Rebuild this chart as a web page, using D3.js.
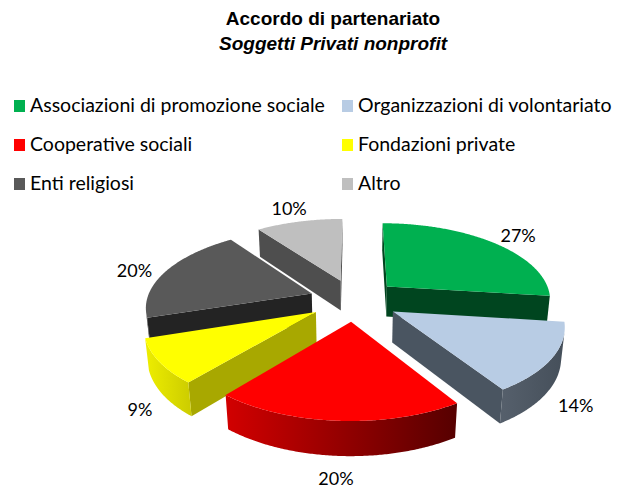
<!DOCTYPE html>
<html>
<head>
<meta charset="utf-8">
<script src="https://cdn.jsdelivr.net/npm/d3@7"></script>
<style>
  body { margin: 0; background: #fff; }
  svg { display: block; }
</style>
</head>
<body>
<svg id="chart" width="617" height="488"></svg>
<script>
'use strict'

const categories = [
  'Associazioni di promozione sociale',
  'Organizzazioni di volontariato',
  'Cooperative sociali',
  'Fondazioni private',
  'Enti religiosi',
  'Altro'
]
const values = [27, 14, 20, 9, 20, 10]
const labels = ['27%', '14%', '20%', '9%', '20%', '10%']

// colours: top face, radial faces, outer wall (left -> right)
const topColors = ['#00b050', '#b8cce4', '#ff0000', '#ffff00', '#595959', '#bfbfbf']
const faceColors = ['#00451f', '#4a5561', '#7a0000', '#a8a800', '#232323', '#4e4e4e']
const wallColors = [
  ['#00451f', '#00451f'],
  ['#56606c', '#454f5a'],
  ['#d20000', '#560000'],
  ['#eeee00', '#cccc00'],
  ['#2c2c2c', '#232323'],
  ['#4e4e4e', '#4e4e4e']
]

const cx = 354
const cy = 300
const R = 165
const depthH = 35
const explode = 45
const tilt = 27.7 * Math.PI / 180
const dist = 960
const sinA = Math.sin(tilt)
const cosA = Math.cos(tilt)
const cam = [0, -dist * cosA, dist * sinA]

const svg = d3.select('#chart')
const defs = svg.append('defs')

// title
const title = svg.append('text')
  .attr('x', 333).attr('y', 25)
  .attr('text-anchor', 'middle')
  .style('font-family', '"Liberation Sans", Arial, sans-serif')
  .style('font-weight', 'bold')
  .style('font-size', '19px')
title.append('tspan').text('Accordo di partenariato')
title.append('tspan').attr('x', 333).attr('y', 50)
  .style('font-style', 'italic')
  .text('Soggetti Privati nonprofit')

// legend
const legendFont = 'Lato, "Open Sans", sans-serif'
const legend = svg.append('g')
const legendItems = legend.selectAll('g')
  .data(categories)
  .join('g')
  .attr('transform', (d, i) => `translate(${i % 2 ? 342 : 14}, ${100 + Math.floor(i / 2) * 39})`)
legendItems.append('rect')
  .attr('width', 11).attr('height', 12)
  .attr('fill', (d, i) => topColors[i])
legendItems.append('text')
  .attr('x', 16)
  .attr('y', 12)
  .style('font-family', legendFont)
  .style('font-size', '19.5px')
  .attr('fill', '#000')
  .text(d => d)

// 3d projection of pie-plane coords (u right, v back, h up)
const proj = (u, v, h) => {
  const depth = dist + v * cosA - h * sinA
  const s = dist / depth
  return [cx + u * s, cy + (-v * sinA - h * cosA) * s]
}

const facing = (n, p) => {
  return n[0] * (cam[0] - p[0]) + n[1] * (cam[1] - p[1]) + n[2] * (cam[2] - p[2]) > 0
}

const pie = d3.pie().sort(null).value(d => d)
const arcs = pie(values)

const slices = arcs.map((a, i) => {
  const mid = (a.startAngle + a.endAngle) / 2
  return { i, a0: a.startAngle, a1: a.endAngle, mid, ox: explode * Math.sin(mid), oy: explode * Math.cos(mid) }
})

const pt = (s, theta, r, h) => proj(s.ox + r * Math.sin(theta), s.oy + r * Math.cos(theta), h)
const line = d3.line()

const pieG = svg.append('g')
let gradId = 0

slices.slice().sort((p, q) => Math.cos(q.mid) - Math.cos(p.mid)).forEach(s => {
  const g = pieG.append('g')
  const steps = Math.max(4, Math.ceil((s.a1 - s.a0) / (Math.PI / 360)))
  const angs = d3.range(steps + 1).map(k => s.a0 + (s.a1 - s.a0) * k / steps)

  // radial faces
  const faces = [
    { th: s.a0, n: [-Math.cos(s.a0), Math.sin(s.a0), 0] },
    { th: s.a1, n: [Math.cos(s.a1), -Math.sin(s.a1), 0] }
  ]
  faces.forEach(f => {
    const p = [s.ox + R / 2 * Math.sin(f.th), s.oy + R / 2 * Math.cos(f.th), -depthH / 2]
    if (!facing(f.n, p)) return
    const poly = [pt(s, 0, 0, 0), pt(s, f.th, R, 0), pt(s, f.th, R, -depthH), pt(s, 0, 0, -depthH)]
    g.append('path').attr('d', line(poly) + 'Z').attr('fill', faceColors[s.i])
  })

  // outer wall
  const vis = angs.map(th => facing([Math.sin(th), Math.cos(th), 0],
    [s.ox + R * Math.sin(th), s.oy + R * Math.cos(th), -depthH / 2]))
  const runs = []
  let cur = null
  angs.forEach((th, k) => {
    if (vis[k]) {
      if (!cur) { cur = []; runs.push(cur) }
      cur.push(th)
    } else cur = null
  })
  runs.filter(r => r.length > 1).forEach(run => {
    const topPts = run.map(th => pt(s, th, R, 0))
    const botPts = run.map(th => pt(s, th, R, -depthH)).reverse()
    const poly = topPts.concat(botPts)
    const xs = poly.map(p => p[0])
    const id = 'wall' + (gradId++)
    const grad = defs.append('linearGradient').attr('id', id)
      .attr('gradientUnits', 'userSpaceOnUse')
      .attr('x1', d3.min(xs)).attr('x2', d3.max(xs)).attr('y1', 0).attr('y2', 0)
    grad.append('stop').attr('offset', 0).attr('stop-color', wallColors[s.i][0])
    grad.append('stop').attr('offset', 1).attr('stop-color', wallColors[s.i][1])
    g.append('path').attr('d', line(poly) + 'Z').attr('fill', `url(#${id})`)
  })

  // top face
  const topPoly = [pt(s, 0, 0, 0)].concat(angs.map(th => pt(s, th, R, 0)))
  g.append('path').attr('d', line(topPoly) + 'Z').attr('fill', topColors[s.i])
})

// data labels: box placed just outside the rim point at the slice middle
const gapX = 15
const gapY = 9
svg.append('g').selectAll('text')
  .data(slices)
  .join('text')
  .attr('text-anchor', 'middle')
  .style('font-family', legendFont)
  .style('font-size', '18px')
  .text(s => labels[s.i])
  .each(function (s) {
    const w = this.getComputedTextLength()
    const bh = 18
    const sx = Math.sin(s.mid)
    const cyv = Math.cos(s.mid)
    const rim = pt(s, s.mid, R, cyv < 0 ? -depthH : 0)
    const x = rim[0] + sx * (w / 2 + gapX)
    const y = rim[1] - cyv * (bh / 2 + gapY)
    d3.select(this).attr('x', x).attr('y', y + 11)
  })
</script>
</body>
</html>
